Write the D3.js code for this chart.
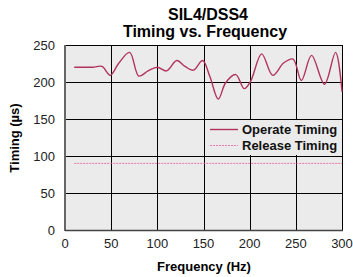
<!DOCTYPE html>
<html>
<head>
<meta charset="utf-8">
<script src="https://cdn.jsdelivr.net/npm/d3@7"></script>
<style>
  body { margin: 0; background: #fff; }
  svg { display: block; font-family: "Liberation Sans", Arial, sans-serif; }
</style>
</head>
<body>
<svg id="chart" width="353" height="277"></svg>
<script>
// --- data ---
var operateFreq = [10, 30, 40, 49, 58, 70, 80, 90, 100, 110, 121, 130, 139, 149, 157, 166, 174, 185, 194, 201, 213, 225, 237, 247, 256, 267, 281, 293, 300];
var operateUs   = [220, 220, 221, 209, 225, 240, 208, 215, 220, 215, 229, 221, 216, 229, 207, 177, 199, 210, 191, 201, 238, 209, 226, 231, 202, 236, 197, 240, 187];
var releaseFreq = [10, 300];
var releaseUs   = [90, 90];
var xTicks = [0, 50, 100, 150, 200, 250, 300];
var yTicks = [0, 50, 100, 150, 200, 250];
var seriesNames = ["Operate Timing", "Release Timing"];

var operateColor = "#b2325f";
var releaseColor = "#e0609a";

var svg = d3.select("#chart");
var m = { left: 65, right: 342, top: 45, bottom: 230 };

var x = d3.scaleLinear().domain([0, 300]).range([m.left, m.right]);
var y = d3.scaleLinear().domain([0, 250]).range([m.bottom, m.top]);

// plot background
svg.append("rect")
  .attr("x", m.left).attr("y", m.top)
  .attr("width", m.right - m.left).attr("height", m.bottom - m.top)
  .attr("fill", "#ebebeb");

// grid
svg.append("g").selectAll("line").data(xTicks).join("line")
  .attr("x1", d => Math.round(x(d)) + 0.5).attr("x2", d => Math.round(x(d)) + 0.5)
  .attr("y1", m.top).attr("y2", m.bottom)
  .attr("stroke", "#000").attr("stroke-width", 1);
svg.append("g").selectAll("line").data(yTicks).join("line")
  .attr("x1", m.left).attr("x2", m.right)
  .attr("y1", d => Math.round(y(d)) + 0.5).attr("y2", d => Math.round(y(d)) + 0.5)
  .attr("stroke", "#000").attr("stroke-width", 1);

// left / bottom axis edge
svg.append("line").attr("x1", m.left).attr("x2", m.left).attr("y1", m.top).attr("y2", m.bottom + 1)
  .attr("stroke", "#666").attr("stroke-width", 2);
svg.append("line").attr("x1", m.left).attr("x2", m.right + 1).attr("y1", m.bottom + 0.5).attr("y2", m.bottom + 0.5)
  .attr("stroke", "#444").attr("stroke-width", 1.5);

// tick labels
svg.append("g").selectAll("text").data(yTicks).join("text")
  .attr("x", 55).attr("y", d => y(d) + 5)
  .attr("text-anchor", "end").attr("font-size", 13).attr("fill", "#222")
  .text(d => d);
svg.append("g").selectAll("text").data(xTicks).join("text")
  .attr("x", d => x(d)).attr("y", 248)
  .attr("text-anchor", "middle").attr("font-size", 13).attr("fill", "#222")
  .text(d => d);

// legend box (hides grid beneath)
svg.append("rect")
  .attr("x", 206).attr("y", 120).attr("width", m.right - 206).attr("height", 35)
  .attr("fill", "#ebebeb");

// series
var line = d3.line().x(d => x(d[0])).y(d => y(d[1])).curve(d3.curveCatmullRom.alpha(0.5));

svg.append("path")
  .datum(releaseFreq.map((f, i) => [f, releaseUs[i]]))
  .attr("d", d3.line().x(d => x(d[0])).y(d => y(d[1])))
  .attr("fill", "none").attr("stroke", releaseColor).attr("stroke-width", 1)
  .attr("stroke-opacity", 0.8).attr("stroke-dasharray", "2,1");

svg.append("path")
  .datum(operateFreq.map((f, i) => [f, operateUs[i]]))
  .attr("d", line)
  .attr("fill", "none").attr("stroke", operateColor).attr("stroke-width", 1.4);

// legend
var lg = svg.append("g");
lg.append("line").attr("x1", 210).attr("x2", 238).attr("y1", 129.5).attr("y2", 129.5)
  .attr("stroke", operateColor).attr("stroke-width", 1.4);
lg.append("line").attr("x1", 210).attr("x2", 238).attr("y1", 145.5).attr("y2", 145.5)
  .attr("stroke", releaseColor).attr("stroke-width", 1).attr("stroke-opacity", 0.8)
  .attr("stroke-dasharray", "2,1");
lg.selectAll("text").data(seriesNames).join("text")
  .attr("x", 242).attr("y", (d, i) => 134 + i * 16)
  .attr("font-size", 13).attr("font-weight", "bold").attr("fill", "#111")
  .text(d => d);

// titles
svg.append("text").attr("x", 208).attr("y", 20).attr("text-anchor", "middle")
  .attr("font-size", 16).attr("font-weight", "bold").text("SIL4/DSS4");
svg.append("text").attr("x", 205).attr("y", 37).attr("text-anchor", "middle")
  .attr("font-size", 16).attr("font-weight", "bold").text("Timing vs. Frequency");
svg.append("text").attr("x", 204).attr("y", 271).attr("text-anchor", "middle")
  .attr("font-size", 13).attr("font-weight", "bold").text("Frequency (Hz)");
svg.append("text").attr("transform", "translate(19,138) rotate(-90)").attr("text-anchor", "middle")
  .attr("font-size", 13).attr("font-weight", "bold").text("Timing (\u00b5s)");
</script>
</body>
</html>
